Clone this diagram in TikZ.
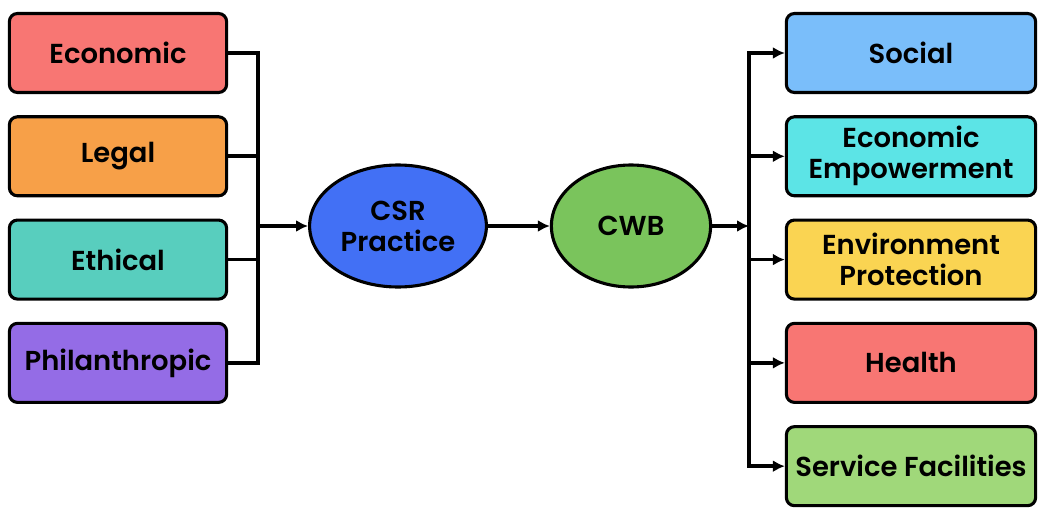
\documentclass[tikz,border=0pt]{standalone}
\usepackage{fontspec}
\setmainfont{Poppins}[BoldFont={Poppins SemiBold}]
\usepackage{xcolor}
\usetikzlibrary{shapes,arrows.meta,positioning}

\definecolor{econred}{RGB}{248,118,115}
\definecolor{legalorange}{RGB}{247,160,72}
\definecolor{ethicteal}{RGB}{88,206,190}
\definecolor{philpurple}{RGB}{148,108,230}
\definecolor{csrblue}{RGB}{66,112,245}
\definecolor{cwbgreen}{RGB}{122,196,92}
\definecolor{socialblue}{RGB}{122,190,250}
\definecolor{empcyan}{RGB}{92,228,230}
\definecolor{envyellow}{RGB}{250,212,82}
\definecolor{healthred}{RGB}{248,118,115}
\definecolor{servgreen}{RGB}{160,216,122}

\tikzstyle{link} = [draw, line width=2.6pt, -{Latex[length=0.3cm,width=0.3cm]}]
\tikzstyle{wire} = [draw, line width=2.6pt]
\tikzstyle{pillar} = [draw, line width=2.2pt, rounded corners=0.2cm, minimum width=5.43cm, minimum height=1.975cm, align=center, font=\fontsize{19.5}{22}\selectfont\bfseries]
\tikzstyle{area} = [pillar, minimum width=6.23cm]
\tikzstyle{hub} = [draw, ellipse, line width=2.2pt, minimum height=3.05cm, inner sep=0pt, align=center, font=\fontsize{19.5}{22}\selectfont\bfseries]

\begin{document}
\begin{tikzpicture}[node distance = 0.53cm, auto]
    \useasboundingbox (0,0) rectangle (26,-12.7);
    % Place nodes
     \node [pillar, fill=econred] at (2.95,-1.325) (econ) {Economic};
     \node [pillar, fill=legalorange, below=of econ] (legal) {Legal};
     \node [pillar, fill=ethicteal, below=of legal] (ethic) {Ethical};
     \node [pillar, fill=philpurple, below=of ethic] (phil) {Philanthropic};

     \node [hub, fill=csrblue, minimum width=4.42cm] at (9.95,-5.65) (csr) {CSR\\Practice};
     \node [hub, fill=cwbgreen, minimum width=3.98cm] at (15.775,-5.65) (cwb) {CWB};

     \node [area, fill=socialblue] at (22.775,-1.325) (social) {Social};
     \node [area, fill=empcyan, below=of social] (empower) {Economic\\Empowerment};
     \node [area, fill=envyellow, below=of empower] (env) {Environment\\Protection};
     \node [area, fill=healthred, below=of env] (health) {Health};
     \node [area, fill=servgreen, below=of health] (service) {Service Facilities};

     \coordinate (lbus) at (6.45,-5.65);
     \coordinate (rbus) at (18.725,-5.65);

    % Draw edges
     \path [wire] (econ.east) -| (lbus);
     \path [wire] (legal.east) -| (lbus);
     \path [wire] (ethic.east) -| (lbus);
     \path [wire] (phil.east) -| (lbus);
     \path [link] (lbus) -- (csr);
     \path [link] (csr) -- (cwb);
     \path [link] (cwb) -- (rbus);
     \path [link] (rbus) |- (social.west);
     \path [link] (rbus) |- (empower.west);
     \path [link] (rbus) |- (env.west);
     \path [link] (rbus) |- (health.west);
     \path [link] (rbus) |- (service.west);

\end{tikzpicture}
\end{document}
